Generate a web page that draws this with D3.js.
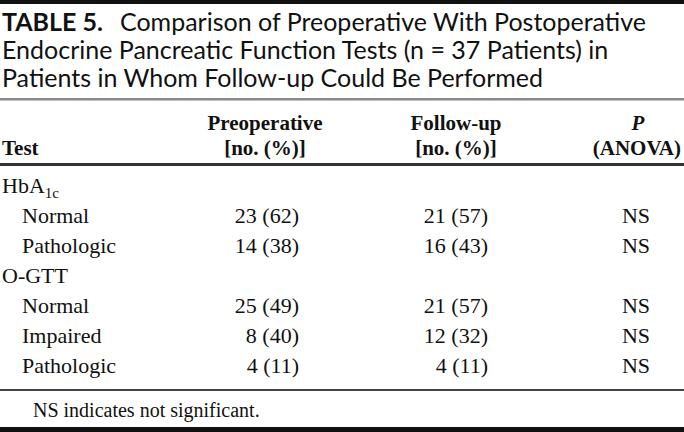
<!DOCTYPE html>
<html>
<head>
<meta charset="utf-8">
<script src="https://cdn.jsdelivr.net/npm/d3@7"></script>
<style>
  html, body { margin: 0; padding: 0; background: #fff; }
  svg { display: block; }
</style>
</head>
<body>
<div id="chart"></div>
<script>
// Table content
var titleLines = [
    ["TABLE 5.", "Comparison of Preoperative With Postoperative"],
    ["", "Endocrine Pancreatic Function Tests (n = 37 Patients) in"],
    ["", "Patients in Whom Follow-up Could Be Performed"]
];
var headers = ["Test", "Preoperative", "Follow-up", "P"];
var subHeaders = ["", "[no. (%)]", "[no. (%)]", "(ANOVA)"];
var groups = ["HbA1c", "O-GTT"];
var rowGroup = ["HbA1c", "HbA1c", "O-GTT", "O-GTT", "O-GTT"];
var rowLabels = ["Normal", "Pathologic", "Normal", "Impaired", "Pathologic"];
var preopN = [23, 14, 25, 8, 4];
var preopPct = [62, 38, 49, 40, 11];
var followN = [21, 16, 21, 12, 4];
var followPct = [57, 43, 57, 32, 11];
var pValues = ["NS", "NS", "NS", "NS", "NS"];
var footnote = "NS indicates not significant.";

var width = 684, height = 432;
var serif = "'Liberation Serif', 'Times New Roman', serif";
var sans = "Lato, 'Open Sans', sans-serif";

var svg = d3.select("#chart").append("svg")
    .attr("width", width)
    .attr("height", height);

// build the list of printed lines: group headings followed by their rows
var lines = [];
groups.forEach(function (g) {
    lines.push({ type: "group", label: g });
    rowGroup.forEach(function (rg, i) {
        if (rg === g) lines.push({ type: "row", index: i });
    });
});

var y = d3.scalePoint()
    .domain(d3.range(lines.length))
    .range([193, 373]);

// column anchors
var colX = { label: 2, indent: 22, preEnd: 299, preMid: 265, fuEnd: 488, fuMid: 456, pMid: 636 };

// rules
svg.append("rect").attr("x", 0).attr("y", 0).attr("width", width).attr("height", 4).attr("fill", "#111");
svg.append("rect").attr("x", 0).attr("y", 98).attr("width", width).attr("height", 2.5).attr("fill", "#8a8a8a");
svg.append("rect").attr("x", 0).attr("y", 163).attr("width", width).attr("height", 3).attr("fill", "#333");
svg.append("rect").attr("x", 0).attr("y", 389).attr("width", width).attr("height", 2).attr("fill", "#444");
svg.append("rect").attr("x", 0).attr("y", 427).attr("width", width).attr("height", 5).attr("fill", "#111");

// title
var title = svg.append("g").attr("font-family", sans).attr("font-size", 25).attr("fill", "#111");
titleLines.forEach(function (ln, i) {
    var t = title.append("text").attr("x", 2).attr("y", 31 + i * 28);
    if (ln[0]) {
        t.append("tspan").attr("font-weight", "bold").text(ln[0]);
        t.append("tspan").attr("dx", 17).text(ln[1]);
    } else {
        t.text(ln[1]);
    }
});

// header
var head = svg.append("g").attr("font-family", serif).attr("font-size", 21)
    .attr("font-weight", "bold").attr("fill", "#111");
head.append("text").attr("x", colX.label).attr("y", 155).text(headers[0]);
[[colX.preMid, 1], [colX.fuMid, 2]].forEach(function (c) {
    head.append("text").attr("x", c[0]).attr("y", 130).attr("text-anchor", "middle").text(headers[c[1]]);
    head.append("text").attr("x", c[0]).attr("y", 155).attr("text-anchor", "middle").text(subHeaders[c[1]]);
});
head.append("text").attr("x", 638).attr("y", 130).attr("text-anchor", "middle")
    .attr("font-style", "italic").text(headers[3]);
head.append("text").attr("x", 681).attr("y", 155).attr("text-anchor", "end").text(subHeaders[3]);

// body
var body = svg.append("g").attr("font-family", serif).attr("font-size", 22).attr("fill", "#111");
lines.forEach(function (ln, k) {
    var yy = y(k);
    if (ln.type === "group") {
        var t = body.append("text").attr("x", colX.label).attr("y", yy);
        if (ln.label === "HbA1c") {
            t.append("tspan").text("HbA");
            t.append("tspan").attr("font-size", 15).attr("dy", 5).text("1c");
        } else {
            t.text(ln.label);
        }
        return;
    }
    var i = ln.index;
    body.append("text").attr("x", colX.indent).attr("y", yy).text(rowLabels[i]);
    body.append("text").attr("x", colX.preEnd).attr("y", yy).attr("text-anchor", "end")
        .text(preopN[i] + " (" + preopPct[i] + ")");
    body.append("text").attr("x", colX.fuEnd).attr("y", yy).attr("text-anchor", "end")
        .text(followN[i] + " (" + followPct[i] + ")");
    body.append("text").attr("x", colX.pMid).attr("y", yy).attr("text-anchor", "middle")
        .text(pValues[i]);
});

// footnote
svg.append("text").attr("x", 33).attr("y", 417)
    .attr("font-family", serif).attr("font-size", 20).attr("fill", "#111")
    .text(footnote);
</script>
</body>
</html>
